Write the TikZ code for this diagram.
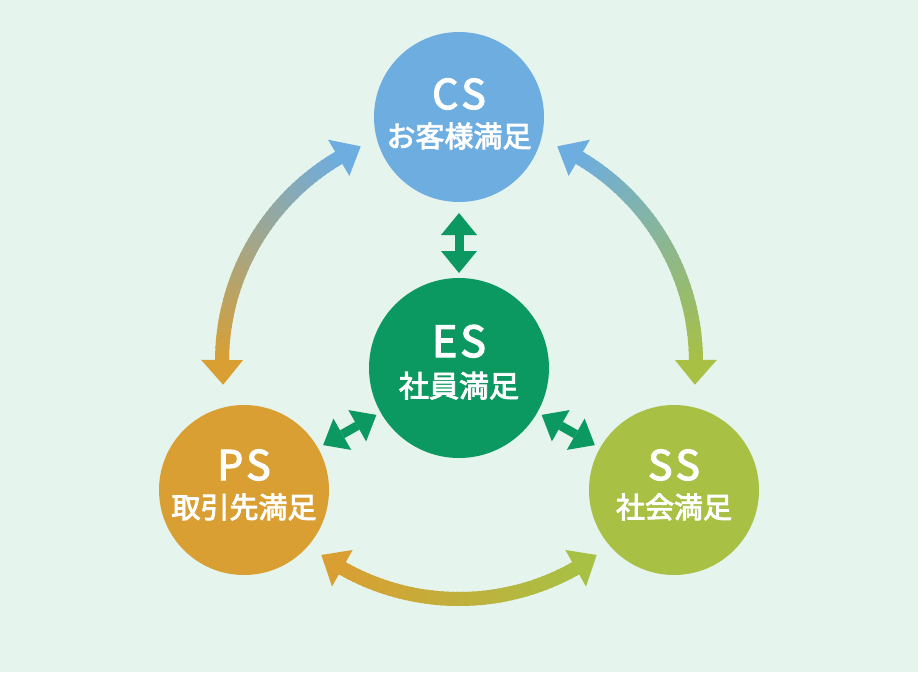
\documentclass[tikz,border=0pt]{standalone}
\usepackage{fontspec}
\setmainfont{Noto Sans CJK JP}
\newfontfamily\labelfont{Noto Sans CJK JP}[FakeBold=3]
\usetikzlibrary{calc,arrows.meta}

\definecolor{bgcol}{HTML}{E5F4EC}
\definecolor{cscol}{HTML}{6DADE0}
\definecolor{escol}{HTML}{0B9961}
\definecolor{pscol}{HTML}{D99F33}
\definecolor{sscol}{HTML}{A8C044}

\tikzset{
  sat/.style={circle, fill=#1, minimum size=170pt, inner sep=0pt, outer sep=0pt},
  abbr/.style={anchor=base, text=white, inner sep=0pt, font=\labelfont\fontsize{41}{44}\selectfont},
  jname/.style={anchor=base, text=white, inner sep=0pt, font=\labelfont\fontsize{29}{32}\selectfont},
  link/.style={escol, line width=9pt,
    {Triangle[length=22pt,width=36pt,line width=0pt]}-{Triangle[length=22pt,width=36pt,line width=0pt]}},
}

% #1 from angle, #2 to angle, #3 colour at #1, #4 colour at #2
\newcommand{\gradarc}[4]{%
  \foreach \i in {0,...,47}{
    \pgfmathsetmacro{\angA}{#1+5+(#2-#1-10)*\i/48}
    \pgfmathsetmacro{\angB}{#1+5+(#2-#1-10)*(\i+1.4)/48}
    \pgfmathsetmacro{\mixp}{100-100*\i/47}
    \draw[line width=14pt, #3!\mixp!#4] ($(hub)+(\angA:237)$) arc (\angA:\angB:237);
  }
  \fill[#3] ($(hub)+(#1:237)$) -- ($(hub)+(#1+6:258)$) -- ($(hub)+(#1+6:216)$) -- cycle;
  \fill[#4] ($(hub)+(#2:237)$) -- ($(hub)+(#2-6:258)$) -- ($(hub)+(#2-6:216)$) -- cycle;
}

\begin{document}
\begin{tikzpicture}[x=1pt, y=-1pt]
  \fill[bgcol] (0,0) rectangle (918,672);
  \coordinate (hub) at (459,362);

  % the four circles
  \node[sat=cscol] (cs) at (459,117) {};
  \node[sat=escol, minimum size=180pt] (es) at (459,368) {};
  \node[sat=pscol] (ps) at (244,490) {};
  \node[sat=sscol] (ss) at (674,490) {};

  \node[abbr] (cs-a) at ($(cs)+(0,-8)$) {C\kern3pt S};
  \node[jname] (cs-j) at ($(cs)+(0,30)$) {お客様満足};
  \node[abbr, font=\labelfont\fontsize{43}{46}\selectfont] (es-a) at ($(es)+(0,-11)$) {E\kern3pt S};
  \node[jname, font=\labelfont\fontsize{30}{34}\selectfont] (es-j) at ($(es)+(0,29)$) {社員満足};
  \node[abbr] (ps-a) at ($(ps)+(0,-10)$) {P\kern3pt S};
  \node[jname] (ps-j) at ($(ps)+(0,28)$) {取引先満足};
  \node[abbr] (ss-a) at ($(ss)+(0,-10)$) {S\kern3pt S};
  \node[jname] (ss-j) at ($(ss)+(0,28)$) {社会満足};

  % outer ring
  \gradarc{174.5}{245.5}{pscol}{cscol}
  \gradarc{294.5}{365.5}{cscol}{sscol}
  \gradarc{54.5}{125.5}{sscol}{pscol}

  % links to ES
  \draw[link, shorten <=5pt, shorten >=11pt] (es) -- (cs);
  \draw[link, shorten <=6pt, shorten >=5pt] (ps) -- (es);
  \draw[link, shorten <=5pt, shorten >=6pt] (es) -- (ss);
\end{tikzpicture}
\end{document}
